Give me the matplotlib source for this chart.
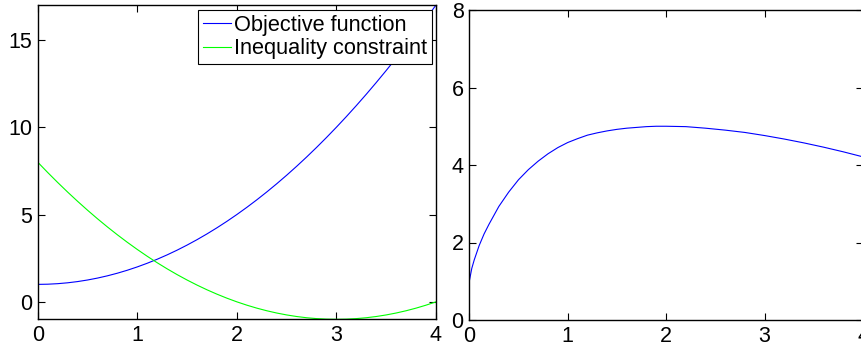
import matplotlib
matplotlib.use("Agg")
import matplotlib.pyplot as plt

plt.rcParams['font.family'] = ['Liberation Sans', 'DejaVu Sans']

# left panel samples
x = [0.0, 0.1, 0.2, 0.3, 0.4, 0.5, 0.6, 0.7, 0.8, 0.9,
     1.0, 1.1, 1.2, 1.3, 1.4, 1.5, 1.6, 1.7, 1.8, 1.9,
     2.0, 2.1, 2.2, 2.3, 2.4, 2.5, 2.6, 2.7, 2.8, 2.9,
     3.0, 3.1, 3.2, 3.3, 3.4, 3.5, 3.6, 3.7, 3.8, 3.9, 4.0]

objective = [1.00, 1.01, 1.04, 1.09, 1.16, 1.25, 1.36, 1.49, 1.64, 1.81,
             2.00, 2.21, 2.44, 2.69, 2.96, 3.25, 3.56, 3.89, 4.24, 4.61,
             5.00, 5.41, 5.84, 6.29, 6.76, 7.25, 7.76, 8.29, 8.84, 9.41,
             10.00, 10.61, 11.24, 11.89, 12.56, 13.25, 13.96, 14.69, 15.44, 16.21, 17.00]

constraint = [8.00, 7.41, 6.84, 6.29, 5.76, 5.25, 4.76, 4.29, 3.84, 3.41,
              3.00, 2.61, 2.24, 1.89, 1.56, 1.25, 0.96, 0.69, 0.44, 0.21,
              0.00, -0.19, -0.36, -0.51, -0.64, -0.75, -0.84, -0.91, -0.96, -0.99,
              -1.00, -0.99, -0.96, -0.91, -0.84, -0.75, -0.64, -0.51, -0.36, -0.19, 0.00]

# right panel samples
x_right = [0.0, 0.025, 0.05, 0.1, 0.15, 0.2, 0.3, 0.4, 0.5, 0.6, 0.7, 0.8, 0.9,
           1.0, 1.1, 1.2, 1.3, 1.4, 1.5, 1.6, 1.7, 1.8, 1.9, 2.0,
           2.2, 2.4, 2.6, 2.8, 3.0, 3.2, 3.4, 3.6, 3.8, 4.0]
right_curve = [1.00, 1.33, 1.55, 1.92, 2.22, 2.47, 2.93, 3.30, 3.62, 3.88, 4.10, 4.29, 4.45,
               4.58, 4.68, 4.77, 4.83, 4.88, 4.92, 4.95, 4.97, 4.99, 5.00, 5.00,
               4.99, 4.95, 4.90, 4.84, 4.76, 4.67, 4.57, 4.46, 4.34, 4.21]

labels = ["Objective function", "Inequality constraint"]
left_yticks = [0, 5, 10, 15]
right_yticks = [0, 2, 4, 6, 8]
xticks = [0, 1, 2, 3, 4]

W, H = 862, 349
fig = plt.figure(figsize=(W / 100, H / 100), dpi=100)

def px_axes(l, t, r, b):
    return fig.add_axes([l / W, (H - b) / H, (r - l) / W, (b - t) / H])

ax1 = px_axes(37.7, 5, 436, 319.3)
ax2 = px_axes(469.3, 10, 863, 320)

for ax in (ax1, ax2):
    ax.tick_params(direction='in', top=True, right=True, length=5, width=0.8,
                   labelsize=15.5, pad=4)
    for s in ax.spines.values():
        s.set_linewidth(1.0)
    ax.set_xticks(xticks)
    ax.set_xlim(0, 4)

ax1.plot(x, objective, color=(0, 0, 1), lw=0.8, label=labels[0])
ax1.plot(x, constraint, color=(0, 1, 0), lw=0.8, label=labels[1])
ax1.set_ylim(-1, 17)
ax1.set_yticks(left_yticks)

ax2.plot(x_right, right_curve, color=(0, 0, 1), lw=0.8)
ax2.set_ylim(0, 8)
ax2.set_yticks(right_yticks)

leg = ax1.legend(loc='upper right', bbox_to_anchor=(431.7 / W, (H - 10) / H),
                 bbox_transform=fig.transFigure, borderaxespad=0,
                 fontsize=15.7, fancybox=False, framealpha=1, edgecolor='black',
                 borderpad=0.22, labelspacing=0.12, handlelength=1.25,
                 handletextpad=0.15)
leg.get_frame().set_linewidth(0.8)

fig.savefig("out.png", dpi=100)
